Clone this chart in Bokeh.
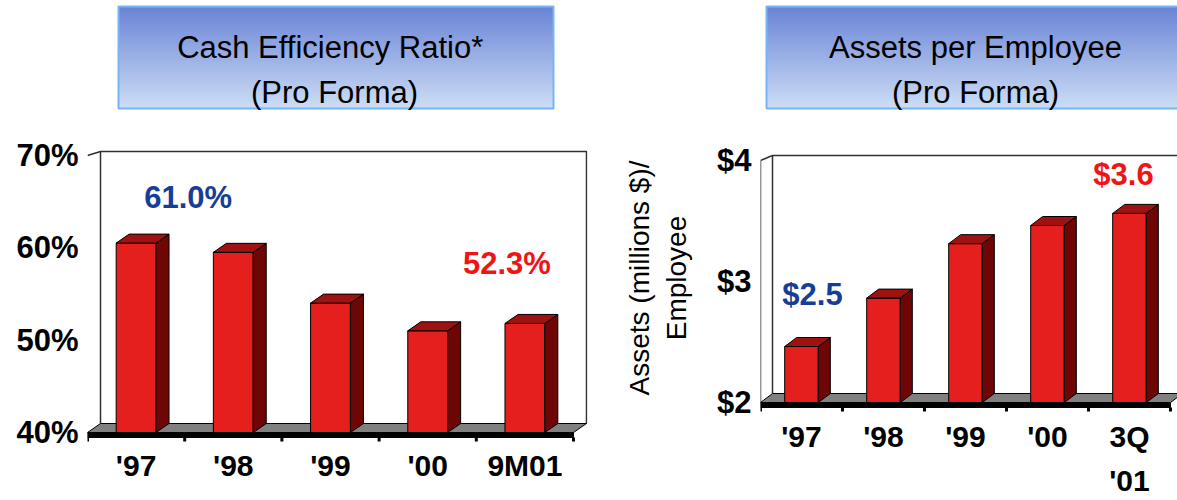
import numpy as np
from bokeh.plotting import figure
from bokeh.models import Range1d, FixedTicker, PrintfTickFormatter, ColumnDataSource
from bokeh.layouts import row, column
from bokeh.embed import file_html
from bokeh.resources import INLINE
from bokeh.core.properties import value

# ---------------- data ----------------
cer_title = ["Cash Efficiency  Ratio*", "(Pro Forma)"]
cer_categories = ["'97", "'98", "'99", "'00", "9M01"]
cer_values = [61.0, 60.0, 54.5, 51.5, 52.3]
cer_ticks = [40, 50, 60, 70]
cer_callout_index = [0, 4]
cer_callout_text = ["61.0%", "52.3%"]

ape_title = ["Assets per Employee", "(Pro Forma)"]
ape_categories = ["'97", "'98", "'99", "'00", "3Q\n'01"]
ape_values = [2.5, 2.9, 3.35, 3.5, 3.6]
ape_ticks = [2, 3, 4]
ape_callout_index = [0, 4]
ape_callout_text = ["$2.5", "$3.6"]
ape_axis_title = "Assets (millions $)/\nEmployee"

# ---------------- style ----------------
FONT = "Liberation Sans"
BLUE = "#163E96"
RED = "#F01414"
FRONT = "#E41F1D"
TOP = "#9E1212"
SIDE = "#6E0606"
FLOOR = "#808080"


def make_chart(cats, vals, ticks, fmt, c_idx, c_txt, c_col, c_dx, c_dy,
               width, height, fl, fr, ft, fb, base_px, ppc, ppu,
               ddx_px, ddy_px, wall_shift_px, front_line, lab_standoff,
               lab_line_height=1.2, ylabel=None, ylabel_standoff=0):
    n = len(cats)
    v0 = ticks[0]
    xs = -0.5
    xe = -0.5 + (fr - fl) / ppc
    ys = v0 - (fb - base_px) / ppu
    ye = v0 + (base_px - ft) / ppu
    p = figure(width=width, height=height, x_range=Range1d(xs, xe), y_range=Range1d(ys, ye),
               output_backend="svg", toolbar_location=None,
               min_border_left=fl, min_border_right=width - fr,
               min_border_top=ft, min_border_bottom=height - fb)
    p.grid.visible = False
    p.outline_line_color = None
    p.background_fill_color = "white"
    p.border_fill_color = "white"

    ddx = ddx_px / ppc
    ddy = ddy_px / ppu
    thick = 5 / ppu
    tick_end = 9 / ppu
    top_back = ticks[-1] + wall_shift_px / ppu

    # back wall
    p.line(x=[-0.5 + ddx, -0.5 + ddx, n - 0.5 + ddx, n - 0.5 + ddx],
           y=[v0 + ddy, top_back, top_back, v0 + ddy], line_color="#303030", line_width=1.5)
    p.line(x=[-0.5, -0.5 + ddx], y=[ticks[-1], top_back], line_color="#303030", line_width=1.5)
    if front_line:
        p.line(x=[-0.5, -0.5], y=[v0, ticks[-1]], line_color="#303030", line_width=1.5)

    # floor
    p.patch(x=[-0.5, n - 0.5, n - 0.5 + ddx, -0.5 + ddx],
            y=[v0, v0, v0 + ddy, v0 + ddy], fill_color=FLOOR, line_color="black", line_width=1)
    p.quad(left=[-0.5], right=[n - 0.5], bottom=[v0 - thick], top=[v0],
           fill_color="black", line_color="black")
    bnd = [k - 0.5 for k in range(n + 1)]
    p.segment(x0=bnd, x1=bnd, y0=[v0 - thick] * (n + 1), y1=[v0 - tick_end] * (n + 1),
              line_color="black", line_width=3)

    # bars
    w = 0.41
    for i, v in enumerate(vals):
        l, r = i - w / 2, i + w / 2
        t = v - ddy / 2
        p.quad(left=[l], right=[r], bottom=[v0], top=[t], fill_color=FRONT,
               line_color="black", line_width=1)
        p.patch(x=[r, r + ddx, r + ddx, r], y=[v0, v0 + ddy, t + ddy, t],
                fill_color=SIDE, line_color="black", line_width=1)
        p.patch(x=[l, r, r + ddx, l + ddx], y=[t, t, t + ddy, t + ddy],
                fill_color=TOP, line_color="black", line_width=1)

    # callouts
    src = ColumnDataSource(dict(x=c_idx, y=[vals[i] for i in c_idx], text=c_txt,
                                color=c_col, dx=c_dx, dy=c_dy))
    p.text(x="x", y="y", text="text", x_offset="dx", y_offset="dy", text_color="color",
           source=src, text_align="center", text_baseline="middle",
           text_font=value(FONT), text_font_style="bold", text_font_size="31px")

    # axes
    xa = p.xaxis[0]
    xa.ticker = FixedTicker(ticks=list(range(n)))
    xa.major_label_overrides = {i: c for i, c in enumerate(cats)}
    xa.axis_line_color = None
    xa.major_tick_line_color = None
    xa.minor_tick_line_color = None
    xa.major_tick_in = 0
    xa.major_tick_out = 0
    xa.major_label_standoff = lab_standoff
    xa.major_label_text_font = FONT
    xa.major_label_text_font_style = "bold"
    xa.major_label_text_font_size = "30px"
    xa.major_label_text_color = "black"
    xa.major_label_text_line_height = lab_line_height

    ya = p.yaxis[0]
    ya.ticker = FixedTicker(ticks=ticks)
    ya.formatter = PrintfTickFormatter(format=fmt)
    ya.axis_line_color = None
    ya.major_tick_line_color = None
    ya.minor_tick_line_color = None
    ya.major_tick_in = 0
    ya.major_tick_out = 0
    ya.major_label_standoff = 9
    ya.major_label_text_font = FONT
    ya.major_label_text_font_style = "bold"
    ya.major_label_text_font_size = "31px"
    ya.major_label_text_color = "black"
    if ylabel:
        ya.axis_label = ylabel
        ya.axis_label_standoff = ylabel_standoff
        ya.axis_label_text_font = FONT
        ya.axis_label_text_font_style = "normal"
        ya.axis_label_text_font_size = "28px"
        ya.axis_label_text_color = "black"
    return p


# left chart: page (0,112) size 600x388 ; frame page x 87..587, y 112..443
left = make_chart(cer_categories, cer_values, cer_ticks, "%d%%",
                  cer_callout_index, cer_callout_text, [BLUE, RED], [52, -18], [-41, -55],
                  width=600, height=388, fl=87, fr=587, ft=0, fb=331,
                  base_px=320, ppc=97.2, ppu=9.233, ddx_px=13, ddy_px=9,
                  wall_shift_px=4, front_line=False, lab_standoff=5)

# right chart: page (600,112) size 577x388 ; frame page x 760..1177, y 112..443
right = make_chart(ape_categories, ape_values, ape_ticks, "$%d",
                   ape_callout_index, ape_callout_text, [BLUE, RED], [11, -6], [-48, -34],
                   width=577, height=388, fl=160, fr=577, ft=0, fb=331,
                   base_px=290, ppc=82.0, ppu=121.0, ddx_px=12, ddy_px=9,
                   wall_shift_px=5, front_line=True, lab_standoff=-24, lab_line_height=1.35,
                   ylabel=ape_axis_title, ylabel_standoff=22)

# ---------------- title strip (page y 0..112) ----------------
tf = figure(width=1177, height=112, x_range=Range1d(0, 1177), y_range=Range1d(0, 112),
            output_backend="svg", toolbar_location=None, min_border=0)
tf.axis.visible = False
tf.grid.visible = False
tf.outline_line_color = None
tf.background_fill_color = "white"
tf.border_fill_color = "white"


def gradient(h, w, top, bottom):
    img = np.empty((h, w), dtype=np.uint32)
    v = img.view(dtype=np.uint8).reshape((h, w, 4))
    for r_ in range(h):
        f = r_ / (h - 1)
        for k in range(3):
            v[r_, :, k] = int(round(bottom[k] + (top[k] - bottom[k]) * f))
        v[r_, :, 3] = 255
    return img


boxes = [(118, 553, cer_title, 334), (766, 1184, ape_title, 975)]
for (bl, br, ttl, cx) in boxes:
    img = gradient(102, 4, (106, 132, 214), (204, 222, 245))
    tf.image_rgba(image=[img], x=bl, y=4, dw=br - bl, dh=102)
    tf.quad(left=[bl], right=[br], bottom=[4], top=[106], fill_color=None,
            line_color="#78B4F5", line_width=2)
    tf.text(x=[cx, cx], y=[65, 20], text=ttl, text_align="center", text_baseline="alphabetic",
            text_font=value(FONT), text_font_size="31px", text_color="black")

layout = column(tf, row(left, right))
open("out.html", "w").write(file_html(layout, INLINE))
